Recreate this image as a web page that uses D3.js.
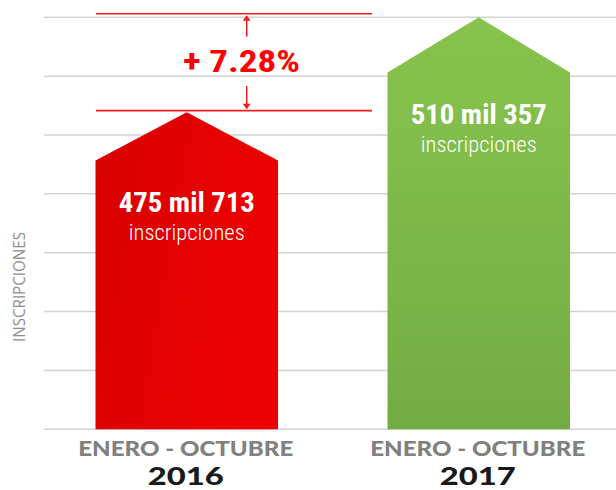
<!DOCTYPE html>
<html>
<head>
<meta charset="utf-8">
<script src="https://cdn.jsdelivr.net/npm/d3@7"></script>
<style>
  html, body { margin: 0; padding: 0; background: #ffffff; }
  svg { display: block; }
</style>
</head>
<body>
<script>
// ---- data ----
const categories = ["2016", "2017"];
const periodLabels = ["ENERO - OCTUBRE", "ENERO - OCTUBRE"];
const values = [475713, 510357];
const valueLabels = ["475 mil 713", "510 mil 357"];
const unitLabel = "inscripciones";
const axisTitle = "INSCRIPCIONES";
const changeLabel = "+ 7.28%";
const yDomain = [360000, 510357];
const gridCount = 8;

// ---- layout ----
const W = 616, H = 490;
const svg = d3.select("body").append("svg").attr("width", W).attr("height", H);

const x = d3.scaleBand().domain(categories).range([95.5, 570]).paddingInner(0.375).paddingOuter(0);
const y = d3.scaleLinear().domain(yDomain).range([429.3, 17.3]);

const defs = svg.append("defs");
const gRed = defs.append("linearGradient").attr("id", "gRed").attr("x1", 0).attr("y1", 0).attr("x2", 1).attr("y2", 0.3);
gRed.append("stop").attr("offset", 0).attr("stop-color", "#d60000");
gRed.append("stop").attr("offset", 1).attr("stop-color", "#ee0000");
const gGreen = defs.append("linearGradient").attr("id", "gGreen").attr("x1", 0).attr("y1", 0).attr("x2", 0).attr("y2", 1);
gGreen.append("stop").attr("offset", 0).attr("stop-color", "#88c34d");
gGreen.append("stop").attr("offset", 1).attr("stop-color", "#74ac44");
const fills = ["url(#gRed)", "url(#gGreen)"];
const roofRatio = [0.265, 0.303];

// gridlines
const gridVals = d3.range(gridCount).map(i => yDomain[0] + i * (yDomain[1] - yDomain[0]) / (gridCount - 1));
svg.append("g").selectAll("line").data(gridVals).join("line")
  .attr("x1", 44).attr("x2", W)
  .attr("y1", d => y(d)).attr("y2", d => y(d))
  .attr("stroke", "#d3d3d3").attr("stroke-width", 1.5);

// arrow-shaped bars
const bw = x.bandwidth();
svg.append("g").selectAll("path").data(values).join("path")
  .attr("d", (v, i) => {
    const x0 = x(categories[i]), x1 = x0 + bw, cx = x0 + bw / 2;
    const top = y(v), sh = top + bw * roofRatio[i], base = y(yDomain[0]);
    return `M${x0},${base}L${x0},${sh}L${cx},${top}L${x1},${sh}L${x1},${base}Z`;
  })
  .attr("fill", (v, i) => fills[i]);

// value labels inside bars
const condensed = "'Roboto Condensed','Liberation Sans Narrow',Roboto,Arial,sans-serif";
values.forEach((v, i) => {
  const cx = x(categories[i]) + bw / 2;
  const sh = y(v) + bw * roofRatio[i];
  svg.append("text").attr("x", cx).attr("y", sh + 51.5)
    .attr("text-anchor", "middle").attr("fill", "#ffffff")
    .attr("font-family", condensed).attr("font-weight", 700).attr("font-size", 27)
    .attr("textLength", 136).attr("lengthAdjust", "spacingAndGlyphs")
    .text(valueLabels[i]);
  svg.append("text").attr("x", cx).attr("y", sh + 79)
    .attr("text-anchor", "middle").attr("fill", "#ffffff")
    .attr("font-family", condensed).attr("font-weight", 300).attr("font-size", 22)
    .attr("textLength", 116).attr("lengthAdjust", "spacingAndGlyphs")
    .text(unitLabel);
});

// x labels
categories.forEach((c, i) => {
  const cx = x(c) + bw / 2 - 1;
  svg.append("text").attr("x", cx).attr("y", 456)
    .attr("text-anchor", "middle").attr("fill", "#808080")
    .attr("font-family", "Lato, 'Open Sans', sans-serif").attr("font-weight", 900).attr("font-size", 20)
    .attr("textLength", 215).attr("lengthAdjust", "spacingAndGlyphs")
    .text(periodLabels[i]);
  svg.append("text").attr("x", cx).attr("y", 485.2)
    .attr("text-anchor", "middle").attr("fill", "#1a1a1a")
    .attr("font-family", "Lato, 'Open Sans', sans-serif").attr("font-weight", 900).attr("font-size", 25)
    .attr("textLength", 76).attr("lengthAdjust", "spacingAndGlyphs")
    .text(c);
});

// y axis title
svg.append("text").attr("transform", "translate(24.5,287) rotate(-90)")
  .attr("text-anchor", "middle").attr("fill", "#8f8f8f")
  .attr("font-family", "'Open Sans', Lato, sans-serif").attr("font-weight", 400).attr("font-size", 17)
  .attr("textLength", 110).attr("lengthAdjust", "spacingAndGlyphs")
  .text(axisTitle);

// change annotation
const red = "#f21c1c";
const lineX0 = 96, lineX1 = 372, arrowX = 246.7;
const yTopLine = y(values[1]) - 3.6, yBotLine = y(values[0]) - 1.6;
const ann = svg.append("g");
[yTopLine, yBotLine].forEach(yy => {
  ann.append("line").attr("x1", lineX0).attr("x2", lineX1).attr("y1", yy).attr("y2", yy)
    .attr("stroke", red).attr("stroke-width", 1.6);
});
// up arrow
ann.append("line").attr("x1", arrowX).attr("x2", arrowX).attr("y1", 36.7).attr("y2", yTopLine + 5)
  .attr("stroke", red).attr("stroke-width", 1.5);
ann.append("path").attr("d", `M${arrowX - 4},${yTopLine + 7}L${arrowX},${yTopLine + 1.5}L${arrowX + 4},${yTopLine + 7}Z`).attr("fill", red);
// down arrow
ann.append("line").attr("x1", arrowX).attr("x2", arrowX).attr("y1", 86).attr("y2", yBotLine - 5)
  .attr("stroke", red).attr("stroke-width", 1.5);
ann.append("path").attr("d", `M${arrowX - 4},${yBotLine - 7}L${arrowX},${yBotLine - 1.5}L${arrowX + 4},${yBotLine - 7}Z`).attr("fill", red);
ann.append("text").attr("x", 241.5).attr("y", 71.7)
  .attr("text-anchor", "middle").attr("fill", "#ff0000")
  .attr("font-family", condensed).attr("font-weight", 700).attr("font-size", 31)
  .attr("textLength", 117).attr("lengthAdjust", "spacingAndGlyphs")
  .text(changeLabel);
</script>
</body>
</html>
